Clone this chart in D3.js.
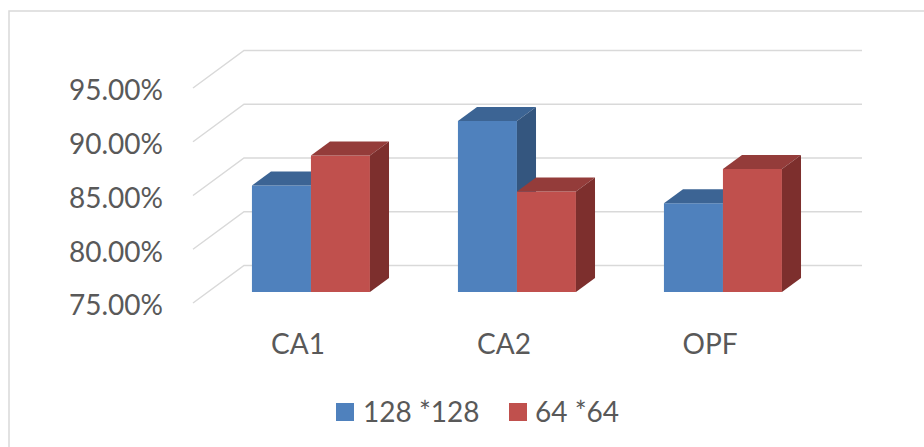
<!DOCTYPE html>
<html>
<head>
<meta charset="utf-8">
<script src="https://cdn.jsdelivr.net/npm/d3@7"></script>
<style>
  html, body { margin: 0; padding: 0; background: #fff; }
  svg { display: block; font-family: Lato, "Open Sans", sans-serif; }
</style>
</head>
<body>
<svg id="chart" width="924" height="447"></svg>
<script>
const categories = ["CA1", "CA2", "OPF"];
const seriesNames = ["128 *128", "64 *64"];
const values128 = [84.9, 90.9, 83.25];
const values64 = [87.7, 84.35, 86.45];
const yTicks = [75, 80, 85, 90, 95];
const seriesColors = [
  { front: "#4F81BD", top: "#3C6494", side: "#34567F" },
  { front: "#C0504D", top: "#943C3A", side: "#7D2F2D" }
];

const svg = d3.select("#chart");

// Chart border (only left and top visible)
svg.append("rect")
  .attr("x", 9).attr("y", 11).attr("width", 1200).attr("height", 1200)
  .attr("fill", "none").attr("stroke", "#D9D9D9").attr("stroke-width", 1.5);

// 3D projection parameters
const depthDX = 51, depthDY = -37.5;
const frontLeft = 193, frontRight = 811;
const y = d3.scaleLinear().domain([75, 95]).range([303, 88]);
const x = d3.scaleBand().domain(categories).range([frontLeft, frontRight]).padding(0);
const barW = 59;
const dFront = 0.293, dBack = 0.667;

function P(xf, v, d) { return [xf + d * depthDX, y(v) + d * depthDY]; }

// Gridlines: diagonal on side wall + horizontal on back wall
const grid = svg.append("g").attr("stroke", "#D9D9D9").attr("stroke-width", 1.5).attr("fill", "none");
yTicks.forEach(t => {
  const a = P(frontLeft, t, 0), b = P(frontLeft, t, 1), c = P(frontRight, t, 1);
  grid.append("polyline").attr("points", [a, b, c].map(p => p.join(",")).join(" "));
});

// Y axis labels
const yAxis = svg.append("g")
  .attr("transform", "translate(163,3)")
  .call(d3.axisLeft(y).tickValues(yTicks).tickSize(0).tickPadding(0)
    .tickFormat(d => d.toFixed(2) + "%"));
yAxis.select(".domain").remove();
yAxis.selectAll("text").attr("font-family", "Lato, sans-serif").attr("font-size", 28).attr("fill", "#595959");

// Category labels
const xAxis = svg.append("g")
  .attr("transform", "translate(2,354)")
  .call(d3.axisBottom(x).tickSize(0).tickPadding(0));
xAxis.select(".domain").remove();
xAxis.selectAll("text").attr("dy", 0).attr("y", 0)
  .attr("font-family", "Lato, sans-serif").attr("font-size", 28).attr("fill", "#595959");

// Bars
const series = [values128, values64];
const bars = svg.append("g");
categories.forEach((cat, ci) => {
  const cx = x(cat) + x.bandwidth() / 2;
  series.forEach((vals, si) => {
    const v = vals[ci];
    const x0 = cx - barW + si * barW, x1 = x0 + barW;
    const col = seriesColors[si];
    const poly = (pts, fill) => bars.append("polygon")
      .attr("points", pts.map(p => p.join(",")).join(" "))
      .attr("fill", fill);
    // front
    poly([P(x0, 75, dFront), P(x1, 75, dFront), P(x1, v, dFront), P(x0, v, dFront)], col.front);
    // top
    poly([P(x0, v, dFront), P(x1, v, dFront), P(x1, v, dBack), P(x0, v, dBack)], col.top);
    // side
    poly([P(x1, 75, dFront), P(x1, v, dFront), P(x1, v, dBack), P(x1, 75, dBack)], col.side);
  });
});

// Legend
const legendItems = [{ x: 336, tx: 363 }, { x: 509, tx: 535 }];
const legend = svg.append("g");
seriesNames.forEach((name, i) => {
  legend.append("rect").attr("x", legendItems[i].x).attr("y", 403)
    .attr("width", 18).attr("height", 18).attr("fill", seriesColors[i].front);
  legend.append("text").attr("x", legendItems[i].tx).attr("y", 422)
    .attr("font-family", "Lato, sans-serif").attr("font-size", 28).attr("fill", "#595959")
    .text(name);
});
</script>
</body>
</html>
